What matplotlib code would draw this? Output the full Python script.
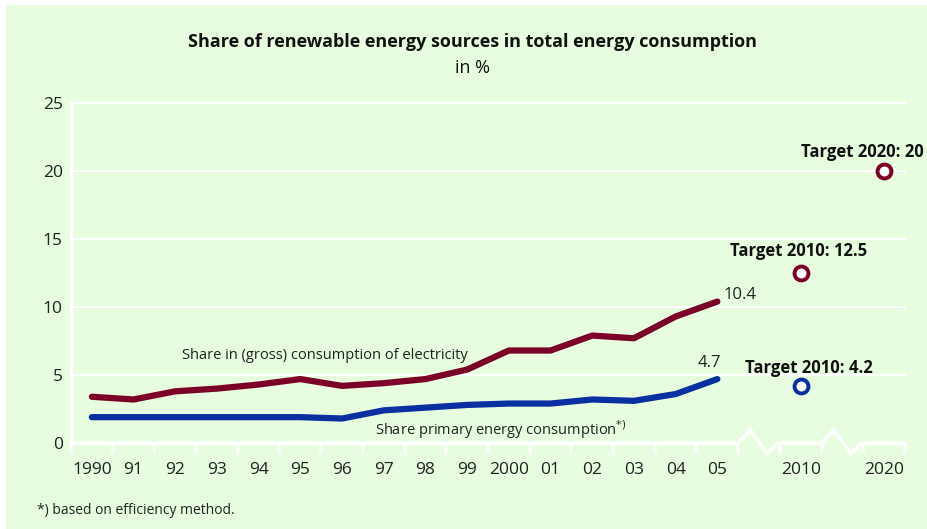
import matplotlib.pyplot as plt
from matplotlib.patches import Rectangle
import numpy as np

# data
years = list(range(1990, 2006))
electricity = [3.4, 3.2, 3.8, 4.0, 4.3, 4.7, 4.2, 4.4, 4.7, 5.4, 6.8, 6.8, 7.9, 7.7, 9.3, 10.4]
primary = [1.9, 1.9, 1.9, 1.9, 1.9, 1.9, 1.8, 2.4, 2.6, 2.8, 2.9, 2.9, 3.2, 3.1, 3.6, 4.7]
target_years = [2010, 2020]
target_electricity = [12.5, 20]
target_primary = [4.2]
tick_labels = ["1990", "91", "92", "93", "94", "95", "96", "97", "98", "99",
               "2000", "01", "02", "03", "04", "05", "2010", "2020"]

GREEN = "#e8fde0"
RED = "#7a0026"
BLUE = "#0a2fa0"
plt.rcParams["font.family"] = ["Open Sans", "DejaVu Sans"]

# slot index on the broken x axis: 1990..2005 -> 0..15, 2010 -> 17, 2020 -> 19
def slot(year):
    if year <= 2005:
        return year - 1990
    return {2010: 17, 2020: 19}[year]

xs = [slot(y) for y in years]
tx = [slot(y) for y in target_years]

fig = plt.figure(figsize=(9.28, 5.29), dpi=100)
fig.patch.set_facecolor("white")
fig.patches.append(Rectangle((6 / 928, 0), 1, 1 - 5 / 529, transform=fig.transFigure,
                             facecolor=GREEN, edgecolor="none", zorder=-10))

ax = fig.add_axes([71 / 928, 86 / 529, 834 / 928, 340 / 529])
ax.set_facecolor(GREEN)
for s in ax.spines.values():
    s.set_visible(False)
ax.set_xlim(-0.5, 19.5)
ax.set_ylim(0, 25)

# grid and y axis
for v in [5, 10, 15, 20, 25]:
    ax.plot([-0.5, 19.5], [v, v], color="white", lw=1.6, zorder=1, clip_on=False)
ax.plot([-0.5, -0.5], [0, 25], color="white", lw=2.2, zorder=1, clip_on=False)

# x axis with two breaks
def zig(x0):
    return [x0, x0 + 0.29, x0 + 0.7, x0 + 0.95], [0, 0.95, -0.8, 0]

ax_x = [-0.5]
ax_y = [0]
for b in (15.5, 17.5):
    zx, zy = zig(b)
    ax_x += zx
    ax_y += zy
ax_x.append(19.5)
ax_y.append(0)
ax.plot(ax_x, ax_y, color="white", lw=2.6, zorder=2, clip_on=False,
        solid_joinstyle="miter")

ax.set_xticks(np.arange(-0.5, 20, 1), minor=True)
ax.set_xticks(xs + tx)
ax.set_xticklabels(tick_labels)
ax.tick_params(axis="x", which="minor", length=7, width=2.6, color="white", direction="out")
ax.tick_params(axis="x", which="major", length=0, pad=14, labelsize=12.5, labelcolor="#222222")
ax.set_yticks([0, 5, 10, 15, 20, 25])
ax.tick_params(axis="y", length=0, pad=6, labelsize=12.5, labelcolor="#222222")

# series
ax.plot(xs, electricity, color=RED, lw=4.5, solid_capstyle="round", zorder=3, clip_on=False)
ax.plot(xs, primary, color=BLUE, lw=4.5, solid_capstyle="round", zorder=3, clip_on=False)
ax.plot(tx, target_electricity, ls="none", marker="o", ms=10, mew=2.8, mec=RED,
        mfc="white", zorder=4, clip_on=False)
ax.plot(tx[:1], target_primary, ls="none", marker="o", ms=10, mew=2.8, mec=BLUE,
        mfc="white", zorder=4, clip_on=False)

# labels
ax.text(xs[-1] + 0.15, electricity[-1] + 0.5, f"{electricity[-1]}", fontsize=12,
        ha="left", va="center", color="#222222")
ax.text(xs[-1] - 0.2, primary[-1] + 1.2, f"{primary[-1]}", fontsize=12,
        ha="center", va="center", color="#222222")
ax.text(tx[0] - 0.05, target_electricity[0] + 1.6, f"Target 2010: {target_electricity[0]}",
        fontsize=12, weight="bold", ha="center", va="center", color="#111111")
fig.text(924 / 928, 1 - 152 / 529, f"Target 2020: {target_electricity[1]}",
         fontsize=12, weight="bold", ha="right", va="center", color="#111111")
ax.text(tx[0] + 0.2, target_primary[0] + 1.3, f"Target 2010: {target_primary[0]}",
        fontsize=12, weight="bold", ha="center", va="center", color="#111111")
ax.text(5.6, 6.4, "Share in (gross) consumption of electricity", fontsize=10.5,
        ha="center", va="center", color="#222222")
ax.text(9.8, 1.0, r"Share primary energy consumption$^{*)}$", fontsize=10.5,
        ha="center", va="center", color="#222222")

fig.text(473 / 928, 1 - 42 / 529, "Share of renewable energy sources in total energy consumption",
         fontsize=13, weight="bold", ha="center", va="center", color="#111111")
fig.text(473 / 928, 1 - 68 / 529, "in %", fontsize=13, ha="center", va="center", color="#111111")
fig.text(37 / 928, 1 - 510 / 529, "*) based on efficiency method.", fontsize=10,
         ha="left", va="center", color="#222222")

fig.savefig("out.png", dpi=100, facecolor=fig.get_facecolor())
